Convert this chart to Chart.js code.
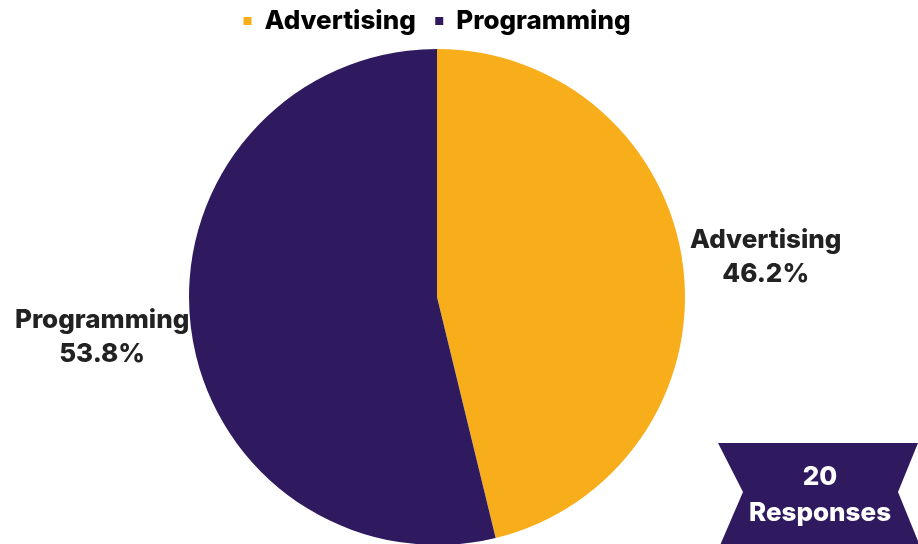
<!DOCTYPE html>
<html>
<head>
<meta charset="utf-8">
<script src="https://cdn.jsdelivr.net/npm/chart.js@4.4.1/dist/chart.umd.min.js"></script>
<style>
  html, body { margin: 0; padding: 0; background: #fff; overflow: hidden; }
  #wrap { position: relative; width: 918px; height: 544px; overflow: hidden; }
</style>
</head>
<body>
<div id="wrap"><canvas id="roles" width="918" height="550"></canvas></div>
<script>
const ctxRoles = document.getElementById('roles').getContext('2d')

const labelsRoles = ['Advertising', 'Programming']
const shareRoles = [46.2, 53.8]
const colorsRoles = ['#F8AE1B', '#2F195F']
const totalResponses = 20

const FONT = 'Inter, "Liberation Sans", sans-serif'
const INK = '#222222'

// Percent labels placed outside each slice, along its middle angle
const outsideLabels = {
  id: 'outsideLabels',
  afterDatasetsDraw(chart) {
    const { ctx } = chart
    const meta = chart.getDatasetMeta(0)
    ctx.save()
    ctx.fillStyle = INK
    ctx.font = '800 26px ' + FONT
    ctx.textAlign = 'center'
    ctx.textBaseline = 'middle'
    meta.data.forEach((arc, i) => {
      const { x, y, startAngle, endAngle, outerRadius } = arc.getProps(['x', 'y', 'startAngle', 'endAngle', 'outerRadius'], true)
      const mid = (startAngle + endAngle) / 2
      const r = outerRadius * (i === 0 ? 1.335 : 1.36)
      const cx = x + Math.cos(mid) * r
      const cy = y + Math.sin(mid) * r
      ctx.fillText(labelsRoles[i], cx, cy - 17)
      ctx.fillText(shareRoles[i].toFixed(1) + '%', cx, cy + 17)
    })
    ctx.restore()
  },
}

// Ribbon badge with the response count, bottom right
const responsesBadge = {
  id: 'responsesBadge',
  afterDraw(chart) {
    const { ctx, width, height } = chart
    ctx.save()
    ctx.fillStyle = '#2F195F'
    ctx.beginPath()
    ctx.moveTo(718, 443)
    ctx.lineTo(width, 443)
    ctx.lineTo(898, 492)
    ctx.lineTo(width, 541)
    ctx.lineTo(width, height)
    ctx.lineTo(718, height)
    ctx.lineTo(743, 492)
    ctx.closePath()
    ctx.fill()
    ctx.fillStyle = '#ffffff'
    ctx.font = '800 26px ' + FONT
    ctx.textAlign = 'center'
    ctx.textBaseline = 'middle'
    ctx.fillText(String(totalResponses), 820, 477)
    ctx.fillText('Responses', 820, 513)
    ctx.restore()
  },
}

const dataRoles = {
  labels: labelsRoles,
  datasets: [
    {
      data: shareRoles,
      backgroundColor: colorsRoles,
      borderWidth: 0,
      radius: 248,
    },
  ],
}

const configRoles = {
  type: 'pie',
  data: dataRoles,
  options: {
    responsive: false,
    animation: false,
    layout: {
      padding: { top: 0, bottom: 0, left: 0, right: 44 },
    },
    plugins: {
      legend: {
        position: 'top',
        labels: {
          usePointStyle: true,
          pointStyle: 'rect',
          boxHeight: 8,
          boxWidth: 8,
          padding: 8,
          color: INK,
          font: { family: FONT, size: 26, weight: '800' },
          generateLabels: chart => labelsRoles.map((text, i) => ({
            text: i === 0 ? text + '  ' : text,
            fillStyle: colorsRoles[i],
            strokeStyle: colorsRoles[i],
            lineWidth: 0,
            pointStyle: 'rect',
            index: i,
            hidden: false,
          })),
        },
      },
      tooltip: { enabled: false },
    },
  },
  plugins: [outsideLabels, responsesBadge],
}
const rolesChart = new Chart(ctxRoles, configRoles)
</script>
</body>
</html>
